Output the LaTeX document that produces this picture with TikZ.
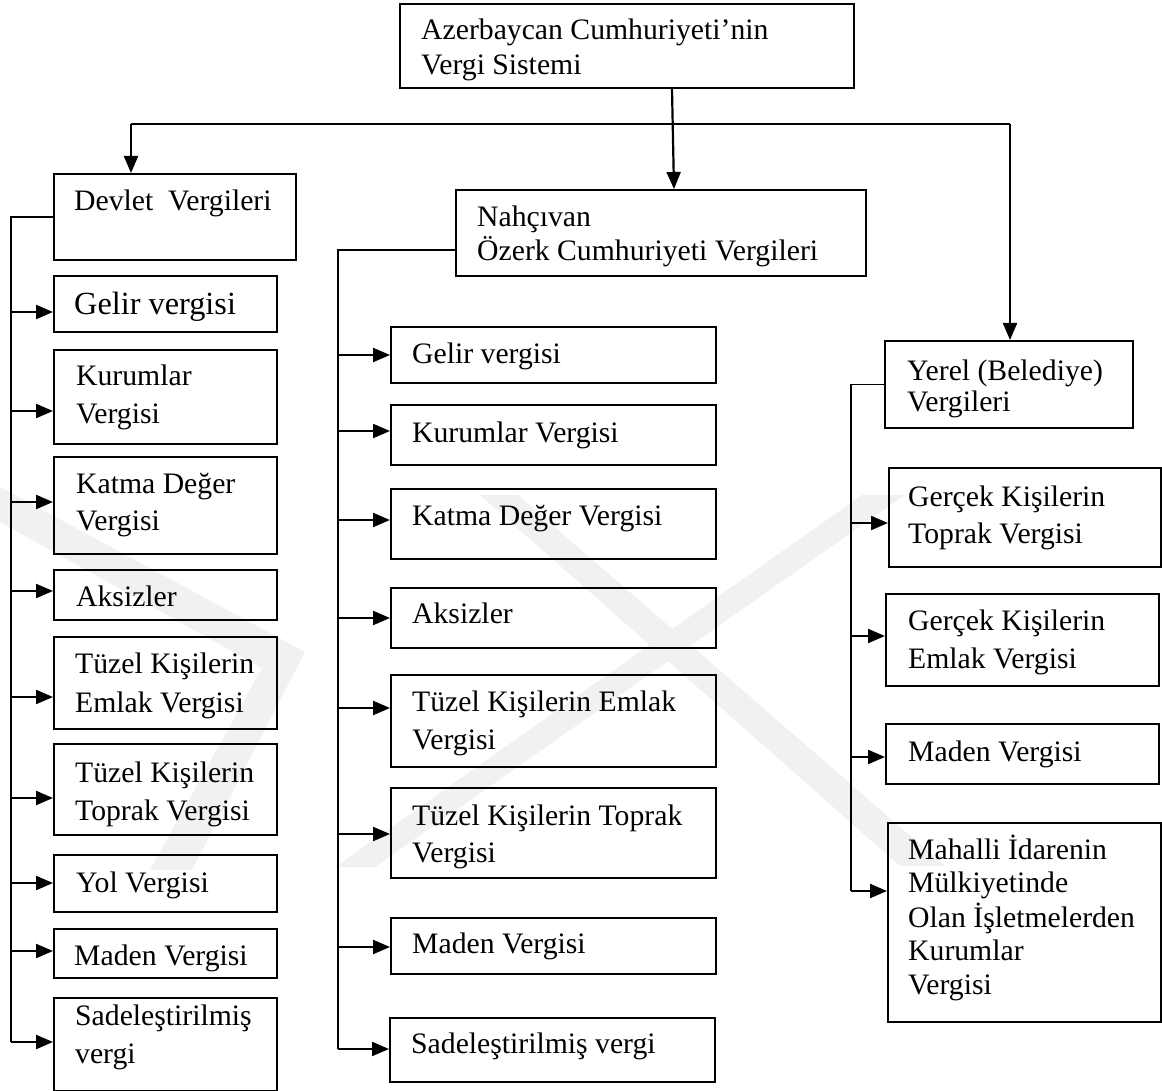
\documentclass[tikz,border=0pt]{standalone}
\usepackage{fontspec}
\setmainfont{Liberation Serif}
\usetikzlibrary{arrows.meta,calc}
\definecolor{wm}{gray}{0.945}
\newcommand\mlines[1]{\begin{tabular}[t]{@{}l@{}}#1\end{tabular}}
\newcommand\bx[5]{\node[box, anchor=north west, minimum width={(#4)-(#2)}, minimum height={(#5)-(#3)}] (#1) at (#2,#3) {};}
\newcommand\feed[3]{\draw[arr] (#1 |- 0,#3) -- (#2.west |- 0,#3);}
\begin{document}
\begin{tikzpicture}[x=1pt,y=-1pt,
  box/.style={draw, line width=1.9pt, inner sep=0pt},
  txt/.style={inner sep=0pt, anchor=base west, font=\fontsize{29.7}{37}\selectfont},
  arr/.style={line width=2.2pt, -{Triangle[length=17pt,width=14pt]}},
  spine/.style={line width=1.5pt}]
\useasboundingbox (0,0) rectangle (1162,1091);
% faint watermark
\fill[wm] (0,487) -- (305,652) -- (192,870) -- (150,870) -- (262,668) -- (0,522) -- cycle;
\fill[wm] (480,495) -- (518,495) -- (945,866) -- (900,866) -- cycle;
\fill[wm] (862,495) -- (905,495) -- (375,867) -- (335,867) -- cycle;
% top level boxes
\bx{top}{399}{3}{853}{87}
\bx{dev}{53}{173}{295}{259}
\bx{nah}{455}{189}{865}{275}
\bx{yer}{884}{340}{1132}{427}
\node[txt, font=\fontsize{29.7}{35}\selectfont] (top-t) at (421,40) {\mlines{Azerbaycan Cumhuriyeti’nin\\Vergi Sistemi}};
\node[txt] (dev-t) at (74,211) {Devlet\ \ Vergileri};
\node[txt, font=\fontsize{29.7}{33}\selectfont] (nah-t) at (477,227) {\mlines{Nahçıvan\\Özerk Cumhuriyeti Vergileri}};
\node[txt, font=\fontsize{29.7}{31}\selectfont] (yer-t) at (907,380) {\mlines{Yerel (Belediye)\\Vergileri}};
% left column
\bx{L1}{53}{275}{276}{331}
\bx{L2}{53}{349}{276}{443}
\bx{L3}{53}{456}{276}{553}
\bx{L4}{53}{569}{276}{619}
\bx{L5}{53}{636}{276}{728}
\bx{L6}{53}{743}{276}{834}
\bx{L7}{53}{854}{276}{911}
\bx{L8}{53}{928}{276}{977}
\bx{L9}{53}{997}{276}{1090}
\node[txt, font=\fontsize{32.3}{37}\selectfont] (L1-t) at (74,315) {Gelir vergisi};
\node[txt, font=\fontsize{29.7}{38}\selectfont] (L2-t) at (76,385) {\mlines{Kurumlar\\Vergisi}};
\node[txt] (L3-t) at (76,493) {\mlines{Katma Değer\\Vergisi}};
\node[txt] (L4-t) at (76,606) {Aksizler};
\node[txt, font=\fontsize{29.7}{39}\selectfont] (L5-t) at (75,673) {\mlines{Tüzel Kişilerin\\Emlak Vergisi}};
\node[txt, font=\fontsize{29.7}{38}\selectfont] (L6-t) at (75,782) {\mlines{Tüzel Kişilerin\\Toprak Vergisi}};
\node[txt] (L7-t) at (76,892) {Yol Vergisi};
\node[txt] (L8-t) at (74,965) {Maden Vergisi};
\node[txt, font=\fontsize{29.7}{38}\selectfont] (L9-t) at (75,1025) {\mlines{Sadeleştirilmiş\\vergi}};
% middle column
\bx{M1}{390}{326}{715}{382}
\bx{M2}{390}{404}{715}{464}
\bx{M3}{390}{488}{715}{558}
\bx{M4}{390}{587}{715}{647}
\bx{M5}{390}{674}{715}{766}
\bx{M6}{390}{787}{715}{877}
\bx{M7}{390}{917}{715}{973}
\bx{M8}{389}{1017}{714}{1081}
\node[txt] (M1-t) at (412,363) {Gelir vergisi};
\node[txt] (M2-t) at (412,442) {Kurumlar Vergisi};
\node[txt] (M3-t) at (412,525) {Katma Değer Vergisi};
\node[txt] (M4-t) at (412,623) {Aksizler};
\node[txt, font=\fontsize{29.7}{38}\selectfont] (M5-t) at (412,711) {\mlines{Tüzel Kişilerin Emlak\\Vergisi}};
\node[txt] (M6-t) at (412,825) {\mlines{Tüzel Kişilerin Toprak\\Vergisi}};
\node[txt] (M7-t) at (412,953) {Maden Vergisi};
\node[txt] (M8-t) at (411,1053) {Sadeleştirilmiş vergi};
% right column
\bx{R1}{888}{467}{1160}{566}
\bx{R2}{885}{593}{1158}{685}
\bx{R3}{885}{723}{1158}{783}
\bx{R4}{887}{822}{1160}{1021}
\node[txt] (R1-t) at (908,506) {\mlines{Gerçek Kişilerin\\Toprak Vergisi}};
\node[txt, font=\fontsize{29.7}{38}\selectfont] (R2-t) at (908,630) {\mlines{Gerçek Kişilerin\\Emlak Vergisi}};
\node[txt] (R3-t) at (908,761) {Maden Vergisi};
\node[txt, font=\fontsize{29.7}{33.5}\selectfont] (R4-t) at (908,859) {\mlines{Mahalli İdarenin\\Mülkiyetinde\\Olan İşletmelerden\\Kurumlar\\Vergisi}};
% top connectors
\coordinate (bl) at (131,124);
\coordinate (br) at (1010,124);
\coordinate (ta) at (672,0);
\coordinate (tb) at (674,0);
\draw[spine] (bl) -- (br);
\draw[arr] (bl) -- (bl |- dev.north);
\draw[arr] (br) -- (br |- yer.north);
\draw[arr] (top.south -| ta) -- (nah.north -| tb);
% spines
\coordinate (ls) at (11,1042);
\coordinate (ms) at (338,1049);
\coordinate (rs) at (851,891);
\draw[spine] (dev.west) -| (ls);
\draw[spine] ([yshift=-17pt]nah.west) -| (ms);
\draw[spine] (yer.west) -| (rs);
% feeds
\feed{ls}{L1}{312}
\feed{ls}{L2}{411}
\feed{ls}{L3}{502}
\feed{ls}{L4}{591}
\feed{ls}{L5}{697}
\feed{ls}{L6}{798}
\feed{ls}{L7}{883}
\feed{ls}{L8}{951}
\feed{ls}{L9}{1042}
\feed{ms}{M1}{355}
\feed{ms}{M2}{431}
\feed{ms}{M3}{520}
\feed{ms}{M4}{618}
\feed{ms}{M5}{708}
\feed{ms}{M6}{834}
\feed{ms}{M7}{947}
\feed{ms}{M8}{1049}
\feed{rs}{R1}{523}
\feed{rs}{R2}{636}
\feed{rs}{R3}{757}
\feed{rs}{R4}{891}
\end{tikzpicture}
\end{document}
